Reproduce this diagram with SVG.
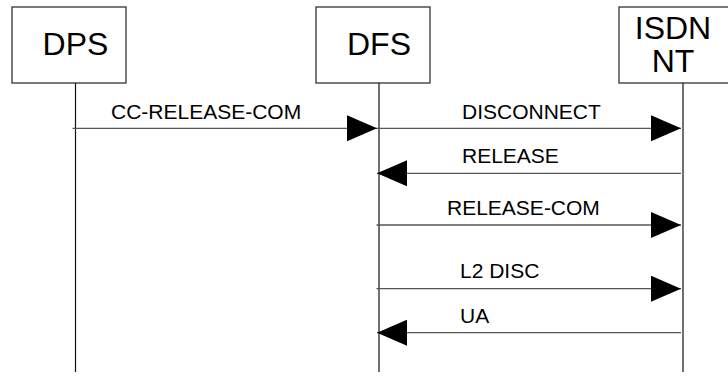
<svg xmlns="http://www.w3.org/2000/svg" width="728" height="376" viewBox="0 0 728 376">
<style>
.box{fill:#fff;stroke:#333;stroke-width:1.3}
.life{stroke:#111;stroke-width:1.2;fill:none}
.name{font-family:"Liberation Sans",Arial,sans-serif;font-size:32px;fill:#000}
.msg{stroke:#555;stroke-width:1.3;fill:none;marker-end:url(#ah)}
.lbl{font-family:"Liberation Sans",Arial,sans-serif;font-size:21px;fill:#000}
</style>
<defs>
<marker id="ah" viewBox="0 0 30 26" refX="30" refY="13" markerWidth="30" markerHeight="26" markerUnits="userSpaceOnUse" orient="auto">
<path d="M0,0 L30,13 L0,26 Z" fill="#000"/>
</marker>
</defs>
<rect width="728" height="376" fill="#fff"/>
<g id="DPS">
<rect class="box" x="12" y="7" width="114" height="76"/>
<line class="life" x1="75.5" y1="83" x2="75.5" y2="372"/>
<text class="name" x="75.5" y="55" text-anchor="middle">DPS</text>
</g>
<g id="DFS">
<rect class="box" x="316" y="7" width="114" height="76"/>
<line class="life" x1="379" y1="83" x2="379" y2="372"/>
<text class="name" x="379" y="55" text-anchor="middle">DFS</text>
</g>
<g id="ISDN_NT">
<rect class="box" x="619" y="7" width="114" height="76"/>
<line class="life" x1="683" y1="83" x2="683" y2="372"/>
<text class="name" x="673" y="39" text-anchor="middle">ISDN</text>
<text class="name" x="673" y="71.5" text-anchor="middle">NT</text>
</g>
<g id="connectors">
<line class="msg" x1="72.5" y1="128.3" x2="377" y2="128.3"/>
<text class="lbl" x="111" y="119">CC-RELEASE-COM</text>
<line class="msg" x1="377" y1="128.3" x2="681" y2="128.3"/>
<text class="lbl" x="462" y="119">DISCONNECT</text>
<line class="msg" x1="681" y1="173.3" x2="377" y2="173.3"/>
<text class="lbl" x="462" y="163">RELEASE</text>
<line class="msg" x1="376.5" y1="225" x2="681" y2="225"/>
<text class="lbl" x="447" y="215">RELEASE-COM</text>
<line class="msg" x1="376.5" y1="288.7" x2="681" y2="288.7"/>
<text class="lbl" x="460" y="277.5">L2 DISC</text>
<line class="msg" x1="681" y1="332.7" x2="377" y2="332.7"/>
<text class="lbl" x="460" y="322.5">UA</text>
</g>
</svg>
